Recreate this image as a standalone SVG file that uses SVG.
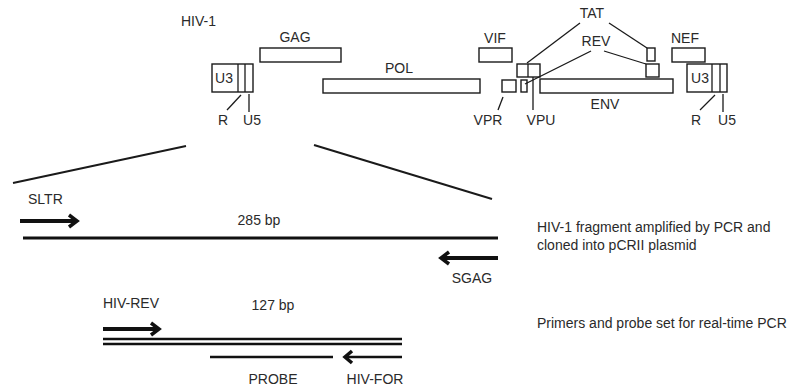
<svg xmlns="http://www.w3.org/2000/svg" width="798" height="387" viewBox="0 0 798 387">
<style>
text{font-family:"Liberation Sans",Arial,sans-serif;font-size:14px;fill:#2a2a2a}
.c{text-anchor:middle}
.box{fill:#fff;stroke:#1a1a1a;stroke-width:1.4}
.ln{stroke:#1a1a1a;stroke-width:1.3;fill:none}
.exp{stroke:#1a1a1a;stroke-width:2;fill:none}
.dna{stroke:#111;stroke-width:3;fill:none}
.dna2{stroke:#111;stroke-width:2.5;fill:none}
.arr{stroke:#111;stroke-width:4;fill:none}
.head{stroke:#111;stroke-width:3.5;fill:none;stroke-linejoin:miter}
</style>
<rect width="798" height="387" fill="#fff"/>
<text x="216" y="26" text-anchor="end">HIV-1</text>
<g id="ltr-left">
<rect class="box" x="212" y="64" width="41" height="28"/>
<line class="ln" x1="238" y1="64" x2="238" y2="92"/>
<line class="ln" x1="245" y1="64" x2="245" y2="92"/>
<text class="c" x="224" y="83">U3</text>
<line class="ln" x1="241" y1="95" x2="227" y2="110"/>
<line class="ln" x1="249" y1="94" x2="249" y2="112"/>
<text class="c" x="223" y="125">R</text>
<text class="c" x="252" y="125">U5</text>
</g>
<g id="gag"><rect class="box" x="260" y="48" width="81" height="14"/><text class="c" x="295" y="42">GAG</text></g>
<g id="pol"><rect class="box" x="323" y="79" width="157" height="14"/><text class="c" x="399" y="73">POL</text></g>
<g id="vif"><rect class="box" x="479" y="48" width="33" height="14"/><text class="c" x="495" y="43">VIF</text></g>
<g id="vpr"><rect class="box" x="502" y="80" width="14" height="12"/><line class="ln" x1="503" y1="97" x2="498" y2="110"/><text class="c" x="488" y="125">VPR</text></g>
<g id="vpu"><rect class="box" x="521" y="80" width="6" height="12"/><line class="ln" x1="533" y1="77" x2="533" y2="110"/><text class="c" x="541" y="125">VPU</text></g>
<g id="tatrev1"><rect class="box" x="517" y="64" width="23" height="13"/><line class="ln" x1="528" y1="64" x2="528" y2="77"/></g>
<g id="env"><rect class="box" x="540" y="79" width="133" height="14"/><text class="c" x="605" y="109">ENV</text></g>
<g id="tat"><text class="c" x="592" y="18">TAT</text><rect class="box" x="647" y="48" width="8" height="13"/></g>
<g id="rev"><text class="c" x="596" y="46">REV</text><rect class="box" x="646" y="64" width="13" height="13"/></g>
<g id="nef"><rect class="box" x="672" y="48" width="33" height="14"/><text class="c" x="685" y="43">NEF</text></g>
<g id="ltr-right">
<rect class="box" x="687" y="64" width="40" height="28"/>
<line class="ln" x1="712" y1="64" x2="712" y2="92"/>
<line class="ln" x1="720" y1="64" x2="720" y2="92"/>
<text class="c" x="700" y="83">U3</text>
<line class="ln" x1="715" y1="95" x2="700" y2="110"/>
<line class="ln" x1="723" y1="94" x2="723" y2="112"/>
<text class="c" x="696" y="125">R</text>
<text class="c" x="727" y="125">U5</text>
</g>
<g id="connectors">
<line class="ln" x1="580" y1="23" x2="527" y2="63"/>
<line class="ln" x1="609" y1="23" x2="647" y2="48"/>
<line class="ln" x1="591" y1="51" x2="525" y2="84"/>
<line class="ln" x1="604" y1="51" x2="646" y2="64"/>
<line class="exp" x1="13" y1="183" x2="186" y2="146"/>
<line class="exp" x1="314" y1="145" x2="492" y2="199"/>
</g>
<g id="fragment285">
<text x="28" y="204">SLTR</text>
<line class="arr" x1="20" y1="221" x2="76" y2="221"/>
<polyline class="head" points="69,215 77,221 69,227"/>
<text class="c" x="259" y="225">285 bp</text>
<line class="dna" x1="23" y1="238" x2="498" y2="238"/>
<line class="arr" x1="498" y1="258" x2="442" y2="258"/>
<polyline class="head" points="449,252 441,258 449,264"/>
<text class="c" x="472" y="283">SGAG</text>
<text x="537" y="232">HIV-1 fragment amplified by PCR and</text>
<text x="537" y="250">cloned into pCRII plasmid</text>
</g>
<g id="fragment127">
<text x="103" y="308">HIV-REV</text>
<text class="c" x="273" y="310">127 bp</text>
<line class="arr" x1="103" y1="329" x2="158" y2="329"/>
<polyline class="head" points="151,323 159,329 151,335"/>
<line class="dna2" x1="103" y1="339" x2="402" y2="339"/>
<line class="dna2" x1="103" y1="344" x2="402" y2="344"/>
<line class="dna2" x1="210" y1="357" x2="333" y2="357"/>
<line class="dna2" x1="402" y1="357" x2="346" y2="357"/>
<polyline class="head" points="352,351 345,357 352,363"/>
<text class="c" x="273" y="384">PROBE</text>
<text class="c" x="375" y="384">HIV-FOR</text>
<text x="537" y="328">Primers and probe set for real-time PCR</text>
</g>
</svg>
